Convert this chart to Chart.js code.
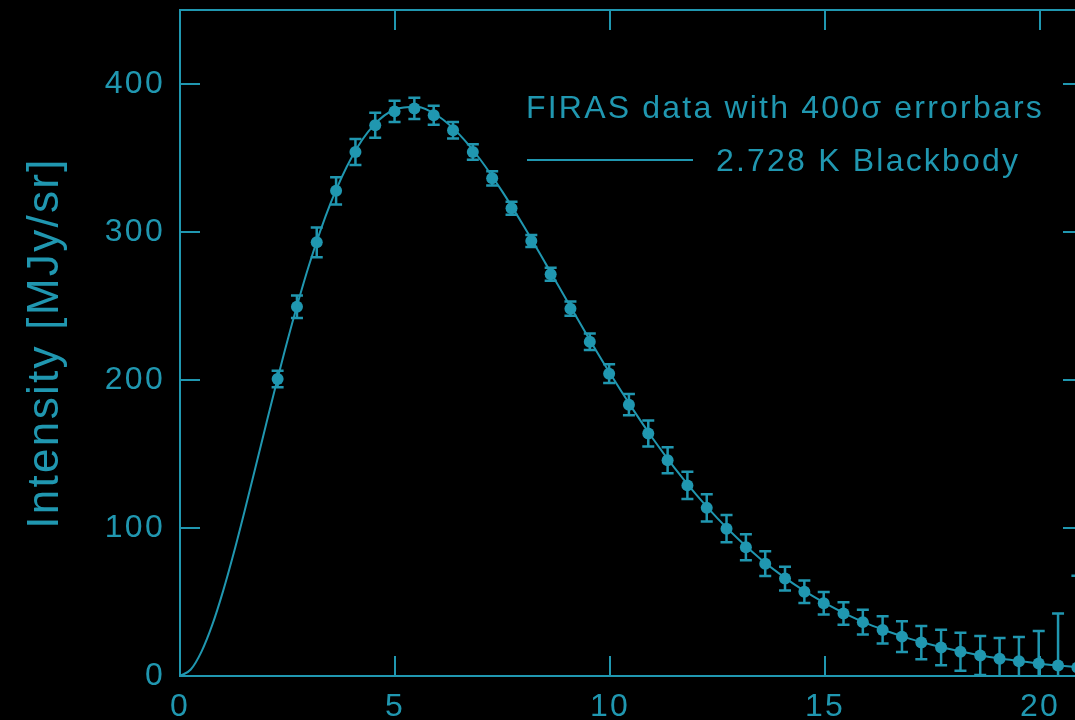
<!DOCTYPE html>
<html>
<head>
<meta charset="utf-8">
<script src="https://cdn.jsdelivr.net/npm/chart.js@4.4.1/dist/chart.umd.min.js"></script>
<style>
  html, body { margin: 0; padding: 0; background: #000; overflow: hidden; }
  #wrap { width: 1100px; height: 720px; }
</style>
</head>
<body>
<div id="wrap"><canvas id="cmbChart" width="1100" height="720"></canvas></div>
<script>
const teal = '#2097b0';

// FIRAS points: frequency (cm^-1), intensity (MJy/sr), 400 sigma half error bar (MJy/sr)
const firasFreq = [2.27, 2.72, 3.18, 3.63, 4.08, 4.54, 4.99, 5.45, 5.90, 6.35, 6.81, 7.26, 7.71, 8.17, 8.62,
  9.08, 9.53, 9.98, 10.44, 10.89, 11.34, 11.80, 12.25, 12.71, 13.16, 13.61, 14.07, 14.52, 14.97, 15.43,
  15.88, 16.34, 16.79, 17.24, 17.70, 18.15, 18.61, 19.06, 19.51, 19.97, 20.42, 20.87, 21.33];
const firasIntensity = [200.7, 249.5, 293.0, 327.8, 354.1, 372.1, 381.5, 383.5, 378.9, 368.8, 354.1, 336.3,
  316.1, 293.9, 271.4, 248.2, 225.9, 204.3, 183.3, 163.8, 145.8, 128.8, 113.6, 99.5, 87.0, 75.9, 65.8, 57.0,
  49.2, 42.3, 36.4, 31.1, 26.6, 22.6, 19.3, 16.4, 13.8, 11.7, 9.9, 8.4, 7.1, 5.8, 4.5];
const firasErr = [5.6, 7.6, 10.0, 9.2, 8.8, 8.4, 7.2, 7.2, 6.4, 5.6, 5.2, 4.8, 4.4, 4.0, 4.4, 4.8, 5.6, 6.4,
  7.2, 8.8, 8.8, 9.2, 9.2, 9.2, 8.8, 8.4, 8.0, 7.6, 7.6, 7.6, 8.4, 9.2, 10.4, 11.2, 12.0, 12.8, 13.2, 14.0,
  16.4, 22.0, 35.2, 62.0, 112.8];

// 2.728 K blackbody
const bbFreq = [0, 0.25, 0.5, 0.75, 1, 1.25, 1.5, 1.75, 2, 2.5, 3, 3.5, 4, 4.5, 5, 5.5, 6, 6.5, 7, 7.5, 8,
  8.5, 9, 9.5, 10, 10.5, 11, 11.5, 12, 12.5, 13, 13.5, 14, 14.5, 15, 15.5, 16, 16.5, 17, 17.5, 18, 18.5,
  19, 19.5, 20, 20.5, 21];
const bbIntensity = [0, 4.4, 16.5, 34.5, 57.2, 83.1, 111.2, 140.4, 169.8, 226.7, 277.5, 319.3, 350.9, 372.0,
  382.8, 384.6, 378.4, 365.8, 348.3, 327.1, 303.7, 278.8, 253.6, 228.6, 204.5, 181.7, 160.3, 140.6, 122.7,
  106.5, 92.0, 79.1, 67.8, 57.8, 49.2, 41.7, 35.2, 29.7, 24.9, 20.9, 17.5, 14.6, 12.1, 10.1, 8.3, 6.9, 5.7];

const xTicks = [0, 5, 10, 15, 20];
const yTicks = [0, 100, 200, 300, 400];

const fontFamily = '"Liberation Sans", Arial, sans-serif';

// frame round the plot with inward ticks on every side
const framePlugin = {
  id: 'frame',
  beforeDraw(chart) {
    chart.ctx.letterSpacing = '2.3px';
  },
  afterDraw(chart) {
    const { ctx, chartArea: a, scales } = chart;
    ctx.save();
    ctx.strokeStyle = teal;
    ctx.lineWidth = 2;
    ctx.strokeRect(a.left, a.top, a.right - a.left, a.bottom - a.top);
    ctx.beginPath();
    xTicks.forEach(v => {
      if (v === 0) return;
      const px = Math.round(scales.x.getPixelForValue(v));
      ctx.moveTo(px, a.bottom); ctx.lineTo(px, a.bottom - 20);
      ctx.moveTo(px, a.top); ctx.lineTo(px, a.top + 20);
    });
    yTicks.forEach(v => {
      if (v === 0) return;
      const py = Math.round(scales.y.getPixelForValue(v));
      ctx.moveTo(a.left, py); ctx.lineTo(a.left + 20, py);
      ctx.moveTo(a.right, py); ctx.lineTo(a.right - 20, py);
    });
    ctx.stroke();
    ctx.restore();
  }
};

const errorBarPlugin = {
  id: 'errorBars',
  afterDatasetsDraw(chart) {
    const { ctx, chartArea: a, scales } = chart;
    ctx.save();
    ctx.beginPath();
    ctx.rect(a.left, a.top, a.right - a.left, a.bottom - a.top);
    ctx.clip();
    ctx.strokeStyle = teal;
    ctx.lineWidth = 2.5;
    ctx.beginPath();
    firasFreq.forEach((f, i) => {
      const px = scales.x.getPixelForValue(f);
      const hi = scales.y.getPixelForValue(firasIntensity[i] + firasErr[i]);
      const lo = scales.y.getPixelForValue(firasIntensity[i] - firasErr[i]);
      ctx.moveTo(px, hi); ctx.lineTo(px, lo);
      ctx.moveTo(px - 6, hi); ctx.lineTo(px + 6, hi);
      ctx.moveTo(px - 6, lo); ctx.lineTo(px + 6, lo);
    });
    ctx.stroke();
    ctx.restore();
  }
};

const legendPlugin = {
  id: 'plainLegend',
  afterDraw(chart) {
    const { ctx } = chart;
    const ds = chart.data.datasets;
    ctx.save();
    ctx.letterSpacing = '2.2px';
    ctx.fillStyle = teal;
    ctx.strokeStyle = teal;
    ctx.font = '32px ' + fontFamily;
    ctx.textBaseline = 'middle';
    ctx.textAlign = 'left';
    ctx.fillText(ds[0].label, 526, 109);
    ctx.lineWidth = 2;
    ctx.beginPath();
    ctx.moveTo(527, 160); ctx.lineTo(693, 160);
    ctx.stroke();
    ctx.fillText(ds[1].label, 716, 162);
    ctx.restore();
  }
};

new Chart(document.getElementById('cmbChart'), {
  type: 'scatter',
  data: {
    datasets: [
      {
        label: 'FIRAS data with 400σ errorbars',
        data: firasFreq.map((f, i) => ({ x: f, y: firasIntensity[i] })),
        showLine: false,
        pointRadius: 6,
        pointBackgroundColor: teal,
        pointBorderWidth: 0,
        order: 0,
      },
      {
        label: '2.728 K Blackbody',
        data: bbFreq.map((f, i) => ({ x: f, y: bbIntensity[i] })),
        showLine: true,
        borderColor: teal,
        borderWidth: 2,
        pointRadius: 0,
        cubicInterpolationMode: 'monotone',
        order: 1,
      },
    ],
  },
  options: {
    responsive: false,
    animation: false,
    devicePixelRatio: 1,
    layout: { padding: { top: 10, right: 17, left: 0, bottom: 0 } },
    scales: {
      x: {
        type: 'linear',
        min: 0,
        max: 21,
        afterBuildTicks: scale => { scale.ticks = xTicks.map(v => ({ value: v })); },
        afterFit: scale => {
          scale.height = 44;
          scale.paddingLeft = 0;
          scale.paddingRight = 0;
        },
        grid: { display: false, drawTicks: false },
        border: { display: false },
        ticks: {
          color: teal,
          font: { family: fontFamily, size: 32 },
          padding: 12,
          maxRotation: 0,
          autoSkip: false,
        },
      },
      y: {
        min: 0,
        max: 450,
        afterBuildTicks: scale => { scale.ticks = yTicks.map(v => ({ value: v })); },
        afterFit: scale => {
          scale.width = 180;
          scale.paddingTop = 0;
          scale.paddingBottom = 0;
        },
        grid: { display: false, drawTicks: false },
        border: { display: false },
        ticks: {
          color: teal,
          font: { family: fontFamily, size: 32 },
          padding: 15,
          autoSkip: false,
        },
        title: {
          display: true,
          text: 'Intensity [MJy/sr]',
          color: teal,
          font: { family: fontFamily, size: 44 },
          padding: { top: 19, bottom: 0 },
        },
      },
    },
    plugins: {
      legend: { display: false },
      tooltip: { enabled: false },
    },
  },
  plugins: [framePlugin, errorBarPlugin, legendPlugin],
});
</script>
</body>
</html>
